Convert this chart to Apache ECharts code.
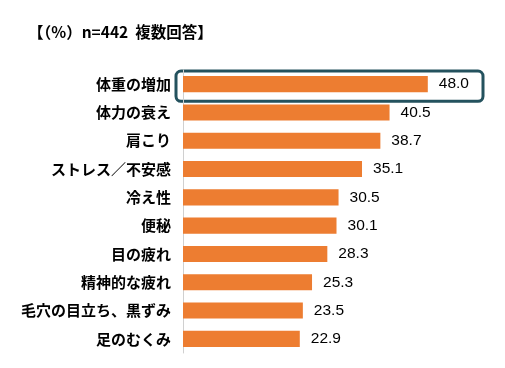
<!DOCTYPE html>
<html><head><meta charset="utf-8">
<script src="https://cdn.jsdelivr.net/npm/echarts@6/dist/echarts.min.js"></script>
<style>html,body{margin:0;padding:0;background:#fff}#c{width:505px;height:368px}</style>
</head><body><div id="c"></div>
<script>
const categories = ['体重の増加','体力の衰え','肩こり','ストレス／不安感','冷え性','便秘','目の疲れ','精神的な疲れ','毛穴の目立ち、黒ずみ','足のむくみ'];
const values = [48.0, 40.5, 38.7, 35.1, 30.5, 30.1, 28.3, 25.3, 23.5, 22.9];
const titleText = '【（%）n=442  複数回答】';
const highlightIndex = 0;

const chart = echarts.init(document.getElementById('c'), null, {renderer:'canvas'});
chart.setOption({
  animation: false,
  backgroundColor: '#fff',
  title: {
    text: titleText, left: 23, top: 19,
    textStyle: {fontFamily: "'Noto Sans CJK JP', sans-serif", fontSize: 15.5, fontWeight: 'bold', color: '#000'}
  },
  grid: {left: 183, top: 70, width: 306, height: 283, containLabel: false},
  xAxis: {type: 'value', min: 0, max: 60, show: false},
  yAxis: {
    type: 'category', data: categories, inverse: true,
    axisLine: {show: true, lineStyle: {color: '#d0d0d0', width: 1}},
    axisTick: {show: false},
    axisLabel: {margin: 12, color: '#000', fontSize: 15, fontWeight: 'bold',
      fontFamily: "'Noto Sans CJK JP', sans-serif"}
  },
  series: [{
    type: 'bar', data: values, barCategoryGap: '43%',
    itemStyle: {color: '#ED7D31'},
    label: {show: true, position: 'right', distance: 11, color: '#000', fontSize: 15.5,
      fontFamily: "'Liberation Sans Narrow', 'Liberation Sans', sans-serif",
      formatter: p => p.value.toFixed(1)}
  }]
});
const p0 = chart.convertToPixel({gridIndex: 0}, [0, highlightIndex]);
const band = 283 / categories.length;
chart.setOption({
  graphic: [{
    type: 'rect', silent: true,
    shape: {x: p0[0] - 7, y: p0[1] - band/2 + 1, width: 307, height: band + 2, r: 5},
    style: {fill: 'none', stroke: '#24525E', lineWidth: 3}
  }]
});
</script></body></html>
